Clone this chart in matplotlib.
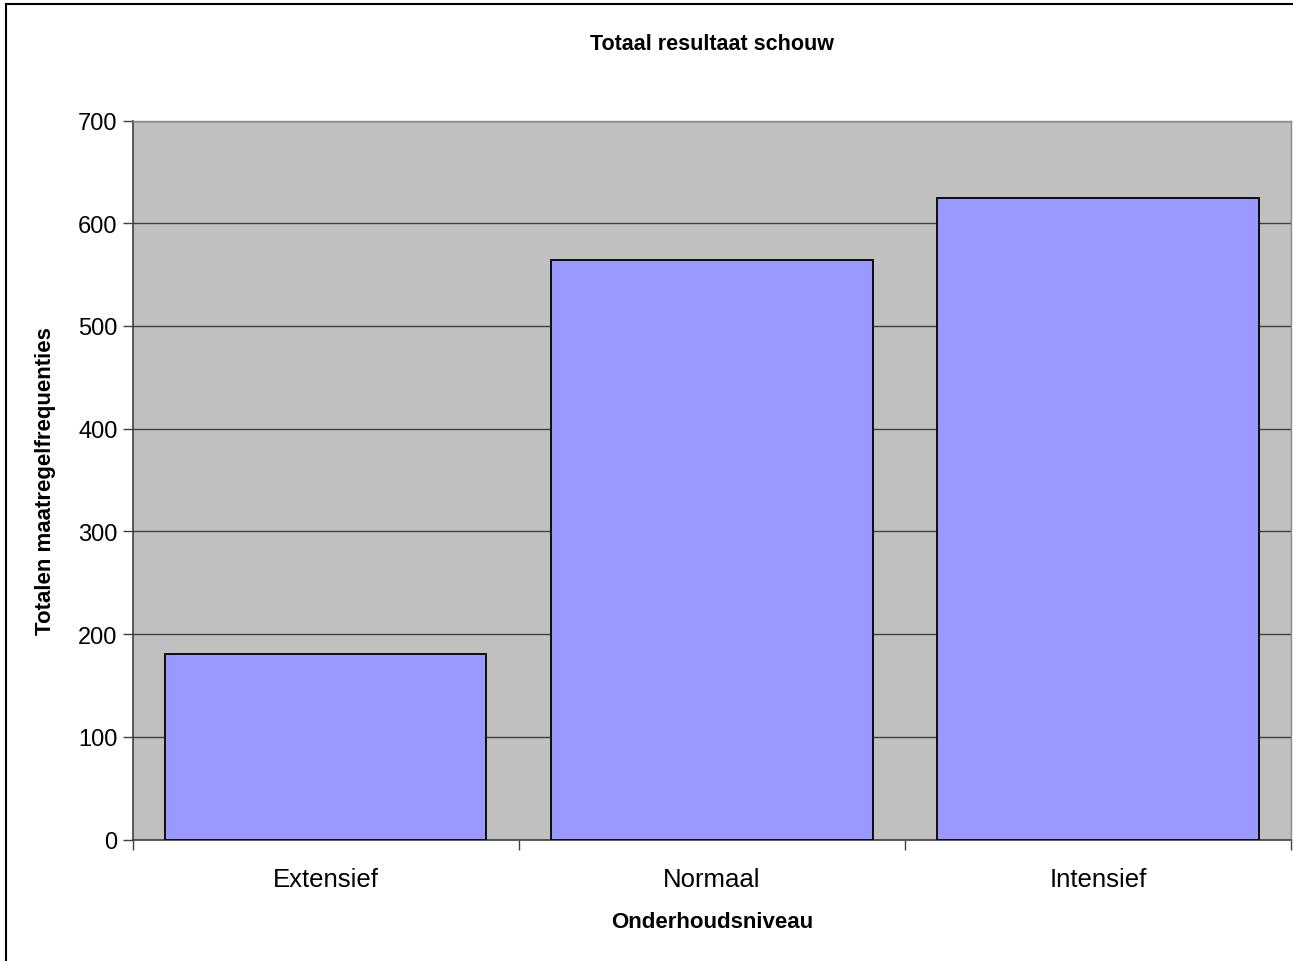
import matplotlib.pyplot as plt
from matplotlib.patches import Rectangle

# Data
categorieen = ["Extensief", "Normaal", "Intensief"]
totalen = [181, 564, 625]
y_ticks = [0, 100, 200, 300, 400, 500, 600, 700]

plt.rcParams['font.family'] = ['Liberation Sans', 'DejaVu Sans']

W, H = 1293, 962
fig = plt.figure(figsize=(W / 100, H / 100), dpi=100)

# outer chart border (only left and top fall inside the image)
fig.patches.append(Rectangle((6 / W, -0.1), 2.0, 1.1 - 5 / H, transform=fig.transFigure,
                             fill=False, edgecolor='black', linewidth=1.5))

left, right, top, bottom = 132.7, 1291.2, 121.5, 840.7
ax = fig.add_axes([left / W, 1 - bottom / H, (right - left) / W, (bottom - top) / H])
ax.set_facecolor('#C0C0C0')

x = range(len(categorieen))
ax.bar(x, totalen, width=0.832, color='#9999FF', edgecolor='black', linewidth=1.3, zorder=3)

ax.set_xlim(-0.5, len(categorieen) - 0.5)
ax.set_ylim(0, 700)
ax.set_yticks(y_ticks)
ax.yaxis.grid(True, color='#404040', linewidth=1, zorder=1)

# category labels between boundary ticks
ax.set_xticks([i + 0.5 for i in range(-1, len(categorieen))])
ax.set_xticklabels([])
ax.set_xticks(list(x), minor=True)
ax.set_xticklabels(categorieen, minor=True, fontsize=18.5)
ax.tick_params(axis='x', which='minor', length=0, pad=20)
ax.tick_params(axis='x', which='major', length=7, width=1, color='#404040', direction='out')
ax.tick_params(axis='y', length=7, width=1, color='#404040', labelsize=17, pad=4)

for s in ['left', 'bottom']:
    ax.spines[s].set_color('#404040')
    ax.spines[s].set_linewidth(1.2)
for s in ['top', 'right']:
    ax.spines[s].set_color('#8a8a8a')
    ax.spines[s].set_linewidth(1)

fig.text((left + right) / 2 / W, 1 - 44 / H, "Totaal resultaat schouw",
         ha='center', va='center', fontsize=15.5, fontweight='bold')
fig.text((left + right) / 2 / W, 1 - 923 / H, "Onderhoudsniveau",
         ha='center', va='center', fontsize=16, fontweight='bold')
fig.text(46 / W, 1 - (top + bottom) / 2 / H, "Totalen maatregelfrequenties",
         ha='center', va='center', rotation=90, fontsize=16, fontweight='bold')

fig.savefig('out.png', dpi=100)
